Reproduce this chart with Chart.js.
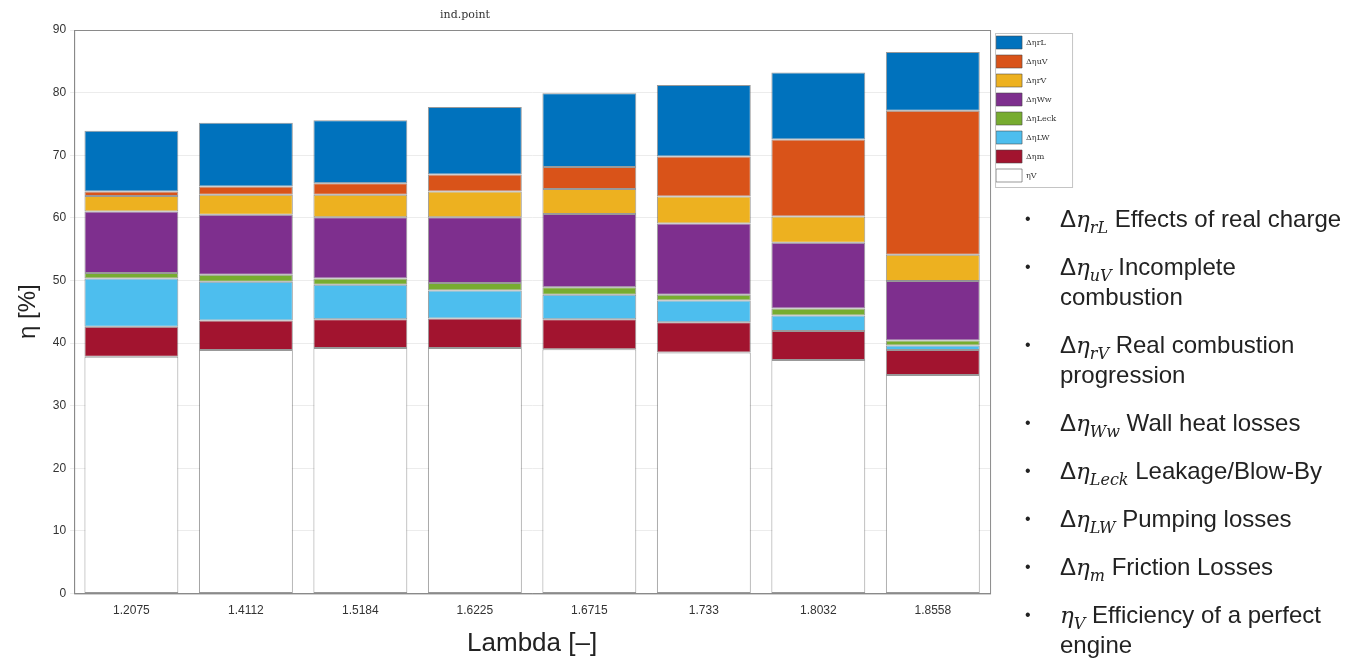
<!DOCTYPE html>
<html>
<head>
<meta charset="utf-8">
<script src="https://cdn.jsdelivr.net/npm/chart.js@4.4.1/dist/chart.umd.min.js"></script>
<style>
  html, body { margin: 0; padding: 0; background: #fff; }
  #wrap { position: relative; width: 1355px; height: 659px; overflow: hidden; }
  #chart { position: absolute; left: 0; top: 0; }
  #title { position: absolute; left: 430px; top: 8px; width: 70px; text-align: center;
           font: 11px "DejaVu Serif", "Liberation Serif", serif; color: #333; }
  #notes { position: absolute; left: 1010px; top: 204px; width: 345px;
           font: 24px "Liberation Sans", Arial, sans-serif; color: #222; }
  #notes div { position: relative; padding-left: 50px; line-height: 30px; margin-bottom: 18px; white-space: nowrap; }
  #notes div:before { content: "\2022"; position: absolute; left: 15px; top: 0; font-size: 16px; }
  #notes i { font-family: "DejaVu Serif", "Liberation Serif", serif; font-size: 23px; line-height: 0; }
  #notes sub { font-family: "DejaVu Serif", serif; font-style: italic; font-size: 16px; line-height: 0; }
</style>
</head>
<body>
<div id="wrap">
  <canvas id="chart" width="1080" height="659"></canvas>
  <div id="title">ind.point</div>
  <div id="notes">
    <div>&Delta;<i>&eta;</i><sub>rL</sub> Effects of real charge</div>
    <div>&Delta;<i>&eta;</i><sub>uV</sub> Incomplete<br>combustion</div>
    <div>&Delta;<i>&eta;</i><sub>rV</sub> Real combustion<br>progression</div>
    <div>&Delta;<i>&eta;</i><sub>Ww</sub> Wall heat losses</div>
    <div>&Delta;<i>&eta;</i><sub>Leck</sub> Leakage/Blow-By</div>
    <div>&Delta;<i>&eta;</i><sub>LW</sub> Pumping losses</div>
    <div>&Delta;<i>&eta;</i><sub>m</sub> Friction Losses</div>
    <div><i>&eta;</i><sub>V</sub> Efficiency of a perfect<br>engine</div>
  </div>
</div>
<script>
var lambdas = ['1.2075', '1.4112', '1.5184', '1.6225', '1.6715', '1.733', '1.8032', '1.8558'];

// stacked from bottom to top
var etaV    = [37.8, 38.9, 39.2, 39.2, 39.0, 38.5, 37.3, 34.9];
var dEtaM   = [4.8, 4.7, 4.6, 4.7, 4.8, 4.8, 4.6, 4.0];
var dEtaLW  = [7.7, 6.2, 5.5, 4.5, 3.9, 3.5, 2.5, 0.7];
var dEtaLeck= [0.9, 1.1, 1.0, 1.2, 1.2, 0.9, 1.1, 0.8];
var dEtaWw  = [9.8, 9.6, 9.8, 10.5, 11.7, 11.4, 10.5, 9.5];
var dEtaRV  = [2.5, 3.2, 3.6, 4.1, 4.0, 4.3, 4.2, 4.2];
var dEtaUV  = [0.7, 1.3, 1.8, 2.7, 3.5, 6.4, 12.3, 23.0];
var dEtaRL  = [9.7, 10.2, 10.1, 10.8, 11.8, 11.4, 10.7, 9.4];

var yTicks = [0, 10, 20, 30, 40, 50, 60, 70, 80, 90];

function series(label, data, color) {
  return {
    label: label,
    data: data,
    backgroundColor: color,
    borderColor: 'rgba(70,70,70,0.55)',
    borderWidth: 1,
    borderSkipped: false,
    barPercentage: 0.82,
    categoryPercentage: 1.0
  };
}

// frame around plot area and a box around the legend
var frame = {
  id: 'frame',
  afterDraw: function (chart) {
    var ctx = chart.ctx, a = chart.chartArea, lg = chart.legend;
    ctx.save();
    ctx.strokeStyle = '#8a8a8a';
    ctx.lineWidth = 1;
    ctx.strokeRect(a.left + 0.5, a.top + 0.5, a.right - a.left, a.bottom - a.top);
    var boxes = lg.legendHitBoxes;
    var last = boxes[boxes.length - 1];
    ctx.strokeStyle = '#c4c4c4';
    ctx.strokeRect(lg.left + 5.5, lg.top + 3.5, 77, last.top + last.height - lg.top + 2);
    ctx.restore();
  }
};

new Chart(document.getElementById('chart').getContext('2d'), {
  type: 'bar',
  data: {
    labels: lambdas,
    datasets: [
      series('\u03B7V', etaV, '#ffffff'),
      series('\u0394\u03B7m', dEtaM, '#A2142F'),
      series('\u0394\u03B7LW', dEtaLW, '#4DBEEE'),
      series('\u0394\u03B7Leck', dEtaLeck, '#77AC30'),
      series('\u0394\u03B7Ww', dEtaWw, '#7E2F8E'),
      series('\u0394\u03B7rV', dEtaRV, '#EDB120'),
      series('\u0394\u03B7uV', dEtaUV, '#D95319'),
      series('\u0394\u03B7rL', dEtaRL, '#0072BD')
    ]
  },
  options: {
    responsive: false,
    animation: false,
    layout: { padding: { left: 14, right: 14, top: 30, bottom: 0 } },
    plugins: {
      title: { display: false },
      tooltip: { enabled: false },
      legend: {
        position: 'right',
        align: 'start',
        reverse: true,
        labels: {
          boxWidth: 26,
          boxHeight: 13,
          padding: 6,
          color: '#333',
          font: { family: 'DejaVu Serif', size: 8 }
        }
      }
    },
    scales: {
      x: {
        stacked: true,
        grid: { display: false },
        border: { color: '#8a8a8a' },
        ticks: { color: '#333', font: { family: 'Liberation Sans', size: 12 }, padding: 2 },
        title: {
          display: true,
          text: 'Lambda [\u2013]',
          color: '#222',
          font: { family: 'Liberation Sans', size: 26 },
          padding: { top: 8, bottom: 0 }
        }
      },
      y: {
        stacked: true,
        min: 0,
        max: 90,
        afterBuildTicks: function (axis) {
          axis.ticks = yTicks.map(function (v) { return { value: v }; });
        },
        grid: { color: '#ececec', tickLength: 4 },
        border: { color: '#8a8a8a' },
        ticks: { color: '#333', font: { family: 'Liberation Sans', size: 12 }, padding: 4 },
        title: {
          display: true,
          text: '\u03B7 [%]',
          color: '#222',
          font: { family: 'Liberation Sans', size: 24 },
          padding: { top: 0, bottom: 6 }
        }
      }
    }
  },
  plugins: [frame]
});
</script>
</body>
</html>
